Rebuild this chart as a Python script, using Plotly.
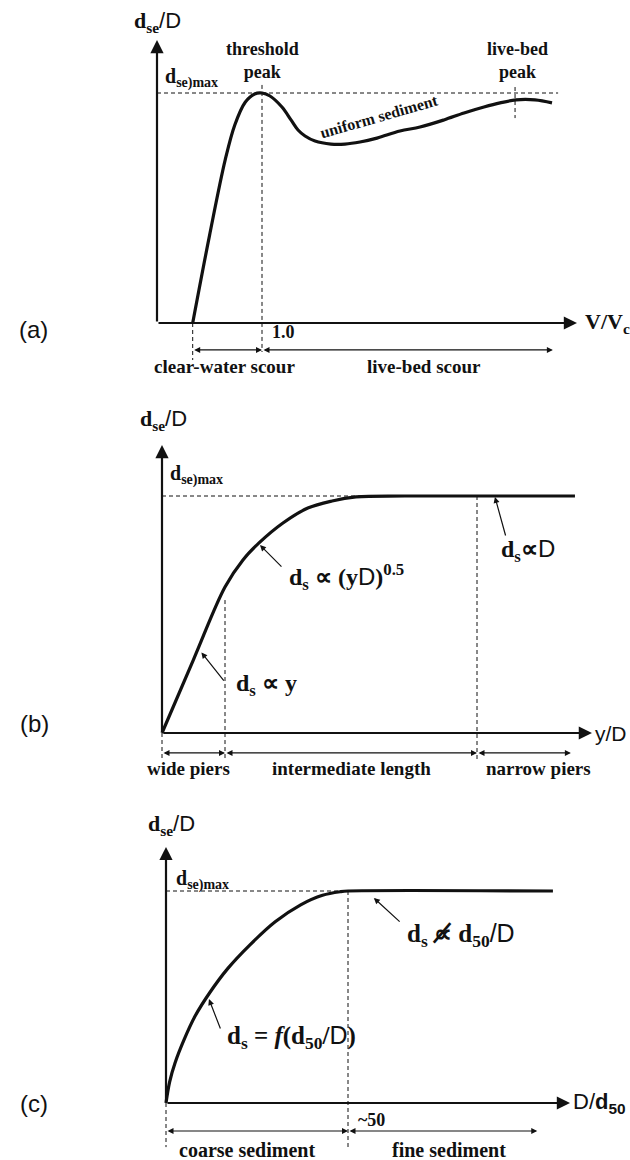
import plotly.graph_objects as go

W, H = 630, 1160
SERIF = "Liberation Serif"
SANS = "Liberation Sans"
INK = "#111111"
DASH = "4px,3px"

# ---- data -----------------------------------------------------------------
# (a) equilibrium scour depth vs flow intensity V/Vc (uniform sediment)
a_vvc = [0.34, 0.50, 0.65, 0.74, 0.84, 0.93, 1.00, 1.076, 1.19, 1.276, 1.343,
         1.41, 1.505, 1.657, 1.79, 1.933, 2.095, 2.314, 2.505, 2.733, 2.924,
         3.114, 3.267, 3.419, 3.60, 3.762]
a_dse = [0.00, 0.38, 0.71, 0.86, 0.96, 0.996, 1.00, 0.987, 0.939, 0.883, 0.839,
         0.813, 0.791, 0.778, 0.778, 0.787, 0.804, 0.835, 0.852, 0.883, 0.913,
         0.939, 0.957, 0.970, 0.970, 0.957]
a_threshold = 1.0
a_onset = 0.34
a_livebed_peak = 3.41
a_xmax = 3.82

# (b) equilibrium scour depth vs flow shallowness y/D
b_yd = [0.0, 0.10, 0.20, 0.257, 0.308, 0.384, 0.463, 0.540, 0.616, 0.771, 1.311]
b_dse = [0.0, 0.31, 0.616, 0.730, 0.802, 0.886, 0.949, 0.979, 0.996, 1.0, 1.0]
b_wide = 0.2
b_narrow = 1.0
b_xmax = 1.311

# (c) equilibrium scour depth vs sediment coarseness D/d50
c_dd50 = [0.0, 1.0, 2.5, 5.0, 8.0, 12.0, 17.0, 23.0, 30.0, 37.0, 43.0, 48.0,
          50.0, 106.3]
c_dse = [0.0, 0.10, 0.19, 0.30, 0.41, 0.52, 0.635, 0.745, 0.855, 0.935, 0.98,
         0.997, 1.0, 1.0]
c_limit = 50.0
c_xmax = 106.3

# ---- panel geometry (origin in px, px per unit, vertical band) --------------
PANELS = {
    "a": dict(ox=157, oy=323, sx=105.0, sy=230.0, top=0, bottom=380),
    "b": dict(ox=162, oy=733, sx=315.0, sy=237.0, top=380, bottom=770),
    "c": dict(ox=166, oy=1103, sx=3.64, sy=212.0, top=770, bottom=1160),
}
AX = {"a": ("x", "y"), "b": ("x2", "y2"), "c": ("x3", "y3")}

fig = go.Figure()
annotations = []


def line(p, xs, ys, width=1.0, dash=None, color=INK, shape="linear"):
    xr, yr = AX[p]
    fig.add_trace(go.Scatter(
        x=xs, y=ys, mode="lines", xaxis=xr, yaxis=yr, showlegend=False,
        hoverinfo="skip",
        line=dict(color=color, width=width, dash=dash, shape=shape,
                  smoothing=1.0 if shape == "spline" else None)))


def arrow(p, x0, y0, x1, y1, width=1.2, size=1.0, both=False, head=2):
    xr, yr = AX[p]
    annotations.append(dict(
        x=x1, y=y1, ax=x0, ay=y0, xref=xr, yref=yr, axref=xr, ayref=yr,
        text="", showarrow=True, arrowhead=head, arrowsize=size,
        arrowwidth=width, arrowcolor=INK, startarrowhead=head,
        startarrowsize=size, arrowside="end+start" if both else "end",
        standoff=0, startstandoff=0))


def label(p, x, y, text, size=16, family=SERIF, xanchor="center",
          yanchor="middle", angle=0):
    xr, yr = AX[p]
    annotations.append(dict(
        x=x, y=y, xref=xr, yref=yr, text=text, showarrow=False,
        xanchor=xanchor, yanchor=yanchor, textangle=angle,
        font=dict(family=family, size=size, color=INK)))


def bold(t):
    return f"<b>{t}</b>"


def sans(t):
    return f"<span style='font-family:{SANS};font-weight:normal'>{t}</span>"


YLAB = "<b>d<sub>se</sub></b>" + sans("/D")
DMAX = "<b>d<sub>se)max</sub></b>"


def axes(p, xtip, ytip):
    arrow(p, 0, 0, 0, ytip, width=2.2, size=1.2)
    arrow(p, 0, 0, xtip, 0, width=2.2, size=1.2)


# ---- (a) ------------------------------------------------------------------
axes("a", 4.0, 1.23)
line("a", [0, a_xmax], [1, 1], dash=DASH)
line("a", [a_threshold, a_threshold], [1.035, -0.126], dash=DASH)
line("a", [a_onset, a_onset], [0, -0.161], dash=DASH)
line("a", [a_livebed_peak, a_livebed_peak], [1.026, 0.891], dash=DASH)
line("a", a_vvc, a_dse, width=3.2, shape="spline")
arrow("a", a_onset, -0.117, a_threshold, -0.117, both=True)
arrow("a", a_threshold, -0.117, 3.77, -0.117, both=True)

label("a", 0.0, 1.309, YLAB, size=22)
label("a", 0.06, 1.065, DMAX, size=20, xanchor="left")
label("a", a_threshold, 1.141, bold("threshold<br>peak"), size=18)
label("a", a_livebed_peak + 0.02, 1.141, bold("live-bed<br>peak"), size=18)
label("a", 2.11, 0.90, bold("uniform sediment"), size=16, angle=-16)
label("a", 1.08, -0.04, bold("1.0"), size=18, xanchor="left")
label("a", 0.64, -0.191, bold("clear-water scour"), size=19)
label("a", 2.54, -0.191, bold("live-bed scour"), size=19)
label("a", 4.06, 0.0, bold("V/V<sub>c</sub>"), size=22, xanchor="left")
label("a", -1.18, -0.03, "(a)", size=24, family=SANS)

# ---- (b) ------------------------------------------------------------------
axes("b", 1.365, 1.215)
line("b", [0, b_xmax], [1, 1], dash=DASH)
line("b", [b_wide, b_wide], [0.561, -0.114], dash=DASH)
line("b", [b_narrow, b_narrow], [1.0, -0.114], dash=DASH)
line("b", [0, 0], [0, -0.114], dash=DASH)
line("b", b_yd, b_dse, width=3.2, shape="spline")
arrow("b", 0, -0.084, b_wide, -0.084, both=True)
arrow("b", b_wide, -0.084, b_narrow, -0.084, both=True)
arrow("b", b_narrow, -0.084, 1.298, -0.084, both=True)
arrow("b", 0.20, 0.215, 0.125, 0.34)
arrow("b", 0.384, 0.696, 0.311, 0.793)
arrow("b", 1.092, 0.827, 1.057, 0.996)

label("b", 0.006, 1.321, YLAB, size=22)
label("b", 0.02, 1.089, DMAX, size=20, xanchor="left")
label("b", 0.229, 0.203, bold("d<sub>s</sub> ∝ y"), size=24, xanchor="left")
label("b", 0.397, 0.658,
      bold("d<sub>s</sub> ∝ (y") + sans("D") + bold(")<sup>0.5</sup>"),
      size=24, xanchor="left")
label("b", 1.07, 0.772, bold("d<sub>s</sub>∝") + sans("D"), size=24,
      xanchor="left")
label("b", 0.083, -0.148, bold("wide piers"), size=19)
label("b", 0.603, -0.148, bold("intermediate length"), size=19)
label("b", 1.194, -0.148, bold("narrow piers"), size=19)
label("b", 1.368, 0.0, "y/D", size=21, family=SANS, xanchor="left")
label("b", -0.406, 0.042, "(b)", size=24, family=SANS)

# ---- (c) ------------------------------------------------------------------
axes("c", 111.0, 1.208)
line("c", [0, c_limit], [1, 1], dash=DASH)
line("c", [c_limit, c_limit], [1.0, -0.208], dash=DASH)
line("c", [0, 0], [0, -0.208], dash=DASH)
line("c", c_dd50, c_dse, width=3.2, shape="spline")
arrow("c", 0, -0.132, c_limit, -0.132, both=True)
arrow("c", c_limit, -0.132, 102.0, -0.132, both=True)
arrow("c", 64.6, 0.849, 57.1, 0.967)
arrow("c", 15.1, 0.344, 11.8, 0.49)

label("c", 1.4, 1.311, YLAB, size=22)
label("c", 2.2, 1.052, DMAX, size=20, xanchor="left")
label("c", 65.7, 0.792,
      bold("d<sub>s</sub> ∝\u0338 d") + "<b><sub>50</sub></b>" + sans("/D"),
      size=25, xanchor="left")
label("c", 16.2, 0.311,
      bold("d<sub>s</sub> = <i>f</i>(d<sub>50</sub>/") + sans("D") + bold(")"),
      size=25, xanchor="left")
label("c", 52.2, -0.08, bold("~50"), size=18, xanchor="left")
label("c", 22.3, -0.222, bold("coarse sediment"), size=20)
label("c", 77.7, -0.222, bold("fine sediment"), size=20)
label("c", 111.3, 0.0, "D/" + bold("d<sub>50</sub>"), size=22, family=SANS,
      xanchor="left")
label("c", -36.3, 0.0, "(c)", size=24, family=SANS)

# ---- axes: invisible, each mapped so that data units land on the panel ----
layout = dict(width=W, height=H, margin=dict(l=0, r=0, t=0, b=0),
              paper_bgcolor="white", plot_bgcolor="white",
              showlegend=False, annotations=annotations)
for p, (xr, yr) in AX.items():
    g = PANELS[p]
    xname = "xaxis" + xr[1:]
    yname = "yaxis" + yr[1:]
    layout[xname] = dict(range=[-g["ox"] / g["sx"], (W - g["ox"]) / g["sx"]],
                         domain=[0, 1], visible=False, fixedrange=True,
                         anchor=yr)
    layout[yname] = dict(range=[(g["oy"] - g["bottom"]) / g["sy"],
                                (g["oy"] - g["top"]) / g["sy"]],
                         domain=[1 - g["bottom"] / H, 1 - g["top"] / H],
                         visible=False, fixedrange=True, anchor=xr)
fig.update_layout(**layout)
fig.write_html("out.html")
